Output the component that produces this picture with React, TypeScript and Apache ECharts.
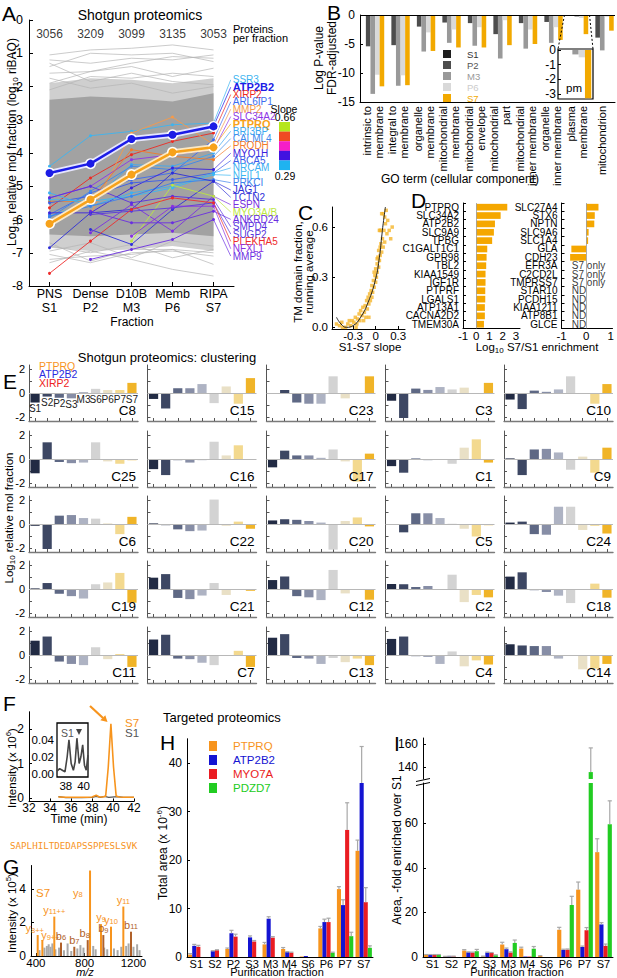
import React, { useEffect, useRef } from 'react';
import * as echarts from 'echarts';

const FONT = "'Liberation Sans', Arial, Helvetica, sans-serif";
const MONO = "'DejaVu Sans Mono', 'Liberation Mono', monospace";

/* ---------------- Panel A ---------------- */
const aFractionTop = ['PNS', 'Dense', 'D10B', 'Memb', 'RIPA'];
const aFractionBottom = ['S1', 'P2', 'M3', 'P6', 'S7'];
const aProteinsPerFraction = [3056, 3209, 3099, 3135, 3053];
const aDenseTop = [-2.4, -2.3, -2.35, -2.45, -2.2];
const aDenseBottom = [-6.45, -6.5, -6.45, -6.4, -6.5];
const aSparseTop = [-1.9, -1.75, -1.8, -1.9, -1.75];
const aSparseBottom = [-6.85, -6.95, -6.9, -6.8, -6.95];
const aGrayOutliers: number[][] = [
  [-1.05, -0.9, -0.85, -0.75, -0.9],
  [-1.2, -1.3, -1.15, -1.2, -1.05],
  [-1.4, -1.0, -1.05, -1.0, -1.25],
  [-1.6, -1.55, -1.4, -1.7, -1.45],
  [-1.3, -1.85, -1.6, -1.85, -1.95],
  [-1.9, -1.55, -1.3, -1.1, -1.15],
  [-1.75, -2.05, -1.9, -2.2, -2.0],
  [-2.1, -1.7, -1.75, -1.6, -1.7],
  [-7.3, -6.95, -7.2, -7.5, -7.7],
  [-7.05, -7.3, -7.0, -6.95, -7.1],
  [-6.8, -7.0, -6.75, -7.15, -6.9],
  [-7.2, -7.1, -7.05, -6.9, -7.35],
  [-6.95, -6.7, -7.15, -6.65, -6.8],
  [-6.7, -7.25, -6.9, -6.9, -7.0],
];
const aGenes = ['SSR3', 'ATP2B2', 'XIRP2', 'ARL6IP1', 'MMP2', 'SLC34A2', 'PTPRQ', 'BRI3BP', 'CALML4', 'PRODH', 'MYO1H', 'ABCA5', 'NRCAM', 'NEIL1', 'PRKCI', 'JAG1', 'TCTN2', 'ESPN', 'MYO3A/B', 'ANKRD24', 'SMPD4', 'SUGP2', 'PLEKHA5', 'NFXL1', 'MMP9'];
const aGeneColors = ['#3cb4f0', '#1c1ce6', '#ec2a22', '#3c6cf0', '#f59a4a', '#8c36e6', '#f7a21b', '#3ca8f0', '#3c88ec', '#f27a2a', '#3a22dc', '#3c5ce8', '#3cb0f2', '#3cb8f2', '#3c80ec', '#2e2ed6', '#3030d8', '#7a30e0', '#bce642', '#6a2ee0', '#5a30e0', '#5838dc', '#ee2c2c', '#8a30e2', '#6c30e2'];
const aBoldGenes = ['ATP2B2', 'PTPRQ'];
const aGeneValues: (number | null)[][] = [
  [-4.4, -3.48, -3.35, -3.15, -3.1],
  [-4.6, -4.32, -3.58, -3.45, -3.2],
  [-5.65, -4.75, -4.05, -3.65, -3.4],
  [-5.85, -5.2, -4.8, -4.6, -3.6],
  [null, -5.85, -3.4, -2.92, -3.75],
  [-5.35, -5.0, -4.2, -4.05, -3.9],
  [-6.13, -5.4, -4.65, -3.98, -3.83],
  [-5.9, -5.5, -4.35, -4.4, -4.0],
  [-5.95, -5.15, -4.4, -4.5, -4.1],
  [-5.45, -5.45, -3.9, -4.1, -4.2],
  [-5.8, -5.8, -5.05, -4.45, -4.5],
  [-5.5, -5.3, -4.9, -4.8, -4.6],
  [-5.2, -5.6, -5.2, -5.0, -4.6],
  [-5.4, -5.45, -5.3, -5.05, -4.65],
  [-5.9, -5.6, -5.3, -4.9, -4.8],
  [-6.85, -5.8, -5.7, -4.6, -4.85],
  [null, -6.3, -6.75, -5.7, -4.85],
  [null, -6.4, -5.55, -6.35, -5.3],
  [null, null, -6.65, -4.97, -5.3],
  [null, -5.75, -6.1, -6.1, -5.75],
  [-5.35, -5.0, -5.5, -5.3, -5.4],
  [null, -5.85, -5.75, -5.65, -5.5],
  [-7.62, -6.65, -5.7, -5.35, -5.5],
  [null, null, -6.5, -5.6, -5.6],
  [null, -7.2, -6.9, -6.6, -6.0],
];
const aSlopeTicks = ['0.66', '0.29'];
const aSlopeColors = ['#b5e61d', '#f04a23', '#f51ec8', '#4212e0', '#1fb3f0'];

/* ---------------- Panel B ---------------- */
const bTerms = ['intrinsic to\nmembrane', 'integral to\nmembrane', 'organelle\nmembrane', 'mitochondrial\nmembrane', 'mitochondrial\nenvelope', 'mitochondrial\npart', 'mitochondrial\ninner membrane', 'organelle\ninner membrane', 'plasma\nmembrane', 'mitochondrion'];
const bFractions = ['S1', 'P2', 'M3', 'P6', 'S7'];
const bS1 = [0, 0, 0, 0, 0, 0, 0, 0, 0, 0];
const bP2 = [-5.4, -5.2, -2.0, -1.3, -1.4, -3.3, -1.4, -1.2, 0, -3.9];
const bM3 = [-13.6, -12.2, -6.3, -4.8, -5.3, -7.5, -5.8, -4.8, -0.3, -6.1];
const bP6 = [-10.3, -10.4, -3.0, -2.5, -2.1, -0.9, -2.5, -2.1, -0.5, -0.3];
const bS7 = [-12.3, -12.1, -6.2, -5.6, -5.6, -5.2, -5.0, -4.3, -3.3, -2.7];
const bInsetTerm = 'plasma\nmembrane';
const bColors = ['#1e1e1e', '#4d4d4d', '#999999', '#d9d9d9', '#f2a900'];
const bLegendTextColors = ['#333333', '#555555', '#999999', '#cccccc', '#f2a900'];

/* ---------------- Panel C ---------------- */
const cPoints: number[][] = [
  [-0.52, 0.02], [-0.48, 0.01], [-0.45, 0.03], [-0.4, 0.0], [-0.37, 0.02], [-0.33, 0.01], [-0.31, 0.04], [-0.29, 0.03],
  [-0.27, 0.06], [-0.25, 0.02], [-0.24, 0.05], [-0.22, 0.08], [-0.21, 0.04], [-0.2, 0.1], [-0.18, 0.07], [-0.17, 0.12],
  [-0.15, 0.09], [-0.14, 0.13], [-0.13, 0.06], [-0.12, 0.16], [-0.11, 0.11], [-0.1, 0.18], [-0.09, 0.14], [-0.08, 0.2],
  [-0.07, 0.16], [-0.06, 0.22], [-0.05, 0.18], [-0.05, 0.25], [-0.04, 0.21], [-0.03, 0.28], [-0.02, 0.24], [-0.01, 0.31],
  [0.0, 0.27], [0.0, 0.35], [0.01, 0.3], [0.02, 0.38], [0.02, 0.33], [0.03, 0.42], [0.04, 0.36], [0.04, 0.46],
  [0.05, 0.4], [0.06, 0.48], [0.06, 0.43], [0.07, 0.5], [0.08, 0.45], [0.09, 0.53], [0.1, 0.48], [0.11, 0.58],
  [0.12, 0.51], [0.13, 0.62], [0.15, 0.56], [0.16, 0.64], [0.18, 0.58], [0.2, 0.53], [0.22, 0.6], [0.08, 0.68],
  [0.1, 0.68], [0.12, 0.66], [0.14, 0.7], [0.05, 0.58], [0.06, 0.58], [0.07, 0.58], [0.02, 0.41], [-0.02, 0.33],
  [-0.09, 0.06], [-0.16, 0.04], [-0.26, 0.0], [-0.35, 0.04], [-0.44, 0.0],
];
const cCurveX = [-0.52, -0.46, -0.39, -0.3, -0.2, -0.1, 0.0, 0.05, 0.08, 0.1, 0.13];
const cCurveY = [0.06, 0.02, 0.0, 0.01, 0.06, 0.15, 0.29, 0.42, 0.54, 0.62, 0.72];

/* ---------------- Panel D ---------------- */
const dLeftGenes = ['PTPRQ', 'SLC34A2', 'ATP2B2', 'SLC9A9', 'TPBG', 'C1GALT1C1', 'GPR98', 'TBL2', 'KIAA1549', 'IGF1R', 'PTPRF', 'LGALS1', 'ATP13A1', 'CACNA2D2', 'TMEM30A'];
const dLeftValues = [2.34, 1.84, 1.41, 1.33, 1.2, 0.83, 0.78, 0.75, 0.7, 0.7, 0.68, 0.68, 0.65, 0.65, 0.58];
const dRightGenes = ['SLC27A4', 'STX6', 'NPTN', 'SLC9A6', 'SLC1A4', 'GLA', 'CDH23', 'EFR3A', 'C2CD2L', 'TMPRSS7', 'STAR10', 'PCDH15', 'KIAA1211', 'ATP8B1', 'GLCE'];
const dRightValues: (number | null)[] = [0.5, 0.35, 0.33, 0.1, 0.08, -0.6, -0.65, null, null, null, null, null, null, null, null];
const dRightNotes = ['', '', '', '', '', '', '', 'S7 only', 'S7 only', 'S7 only', 'ND', 'ND', 'ND', 'ND', 'ND'];

/* ---------------- Panel E ---------------- */
const eFractions = ['S1', 'S2', 'P2', 'S3', 'M3', 'S6', 'P6', 'P7', 'S7'];
const eColors = ['#222b44', '#3d4763', '#5e6884', '#878ea6', '#aeb3c3', '#d3d3d3', '#e9e0c6', '#f3d98f', '#f0b428'];
const eRow1Names = ['C8', 'C15', 'C23', 'C3', 'C10'];
const eRow1 = [
  [-0.8, -0.3, -0.4, -0.45, 0.08, 0.35, 0.25, 0.25, 0.85],
  [-0.5, -1.3, 0.4, 0.4, 0.75, -0.85, 0.55, -0.9, 1.25],
  [-0.05, 0.25, -0.8, -0.9, -0.9, 1.4, -0.45, 0, 1.4],
  [-0.65, -2.1, 0.37, 0.26, 0.5, 0.3, 0.45, 0, 0.85],
  [-0.55, -1.35, 0.2, 0.1, 0.3, 1.4, 0, -0.9, 0.75],
];
const eRow2Names = ['C25', 'C16', 'C17', 'C1', 'C9'];
const eRow2 = [
  [-1.2, 1.4, -0.25, -0.35, -0.3, 1.4, -0.2, -0.4, -0.1],
  [-0.85, -1.35, -0.1, -0.3, -0.1, 1.45, 0.3, 1.15, 0],
  [-0.7, 0.7, 0.3, 0.3, 0.1, 0.8, -0.2, -1.9, 0.45],
  [-0.6, -1.15, 0.05, -0.1, 0, -0.4, 0.95, 1.65, -0.3],
  [0.05, -1.35, 0.8, 0.85, 0.55, -0.9, 0.2, -1.15, 0.95],
];
const eRow3Names = ['C6', 'C22', 'C20', 'C5', 'C24'];
const eRow3 = [
  [-0.15, -2.1, 0.7, 0.75, 0.5, 0.45, 0.05, -0.85, 0.6],
  [0.05, -0.1, -0.45, -0.6, -0.55, 2.05, -0.15, 0.2, -0.4],
  [0.3, 0.4, 0.35, 0.25, 0.12, -2.15, 0.25, 0.55, -0.2],
  [-0.05, -0.7, 0.9, 0.9, 0.5, 0.02, -0.4, -1.05, -0.1],
  [0.12, 0.2, -0.85, -0.9, 1.45, 1.45, -0.5, -0.15, -0.8],
];
const eRow4Names = ['C19', 'C21', 'C12', 'C2', 'C18'];
const eRow4 = [
  [0.05, 0.5, -0.4, -0.6, -0.8, 0.4, 0.55, 1.35, -1.15],
  [0.95, 1.25, -0.75, -0.85, -0.55, 0.5, -0.5, 0, -0.15],
  [0.75, 1.05, -0.6, -0.7, -0.93, 1.6, -0.37, 0, -0.9],
  [0.42, 0.4, 0.17, 0.25, -0.05, 1.2, -1.1, -0.5, -0.7],
  [1.04, 1.4, -0.1, -0.25, -0.56, -1.18, 0, 0.45, -0.73],
];
const eRow5Names = ['C11', 'C7', 'C13', 'C4', 'C14'];
const eRow5 = [
  [1.2, 1.55, -0.55, -0.75, -0.85, 0.65, -0.35, 0.08, -1.0],
  [1.3, 1.7, -0.3, -0.35, -0.65, -0.85, 0, 0.35, -1.0],
  [1.45, 1.75, -0.25, -0.3, -0.75, -0.25, -0.6, -0.3, -0.85],
  [1.35, 1.55, -0.1, -0.15, -0.75, 0.3, -0.95, -0.45, -0.8],
  [0.9, 0.8, 0.75, 0.75, -0.3, 0, -1.2, -1.15, -0.75],
];
const eLegendGenes = ['PTPRQ', 'ATP2B2', 'XIRP2'];
const eLegendColors = ['#f7941d', '#2a2ae0', '#ee2222'];

/* ---------------- Panel F ---------------- */
const fS7Time = [34.8, 35.5, 36, 36.5, 37, 37.5, 38, 38.4, 38.7, 39, 39.3, 39.55, 39.8, 40.05, 40.3, 40.6, 41, 41.5, 42];
const fS7Int = [0.03, 0.02, 0.02, 0.02, 0.02, 0.02, 0.03, 0.08, 0.03, 0.03, 0.05, 0.9, 2.15, 0.9, 0.06, 0.03, 0.02, 0.02, 0.02];
const fS1Time = [34.8, 35.5, 36, 37, 38, 38.4, 38.8, 39.2, 39.6, 40.4, 41, 42];
const fS1Int = [0.04, 0.01, 0.01, 0.01, 0.02, 0.05, 0.02, 0.05, 0.02, 0.04, 0.02, 0.02];
const fInsetTime = [37, 37.3, 37.6, 37.9, 38.15, 38.35, 38.6, 38.85, 39.05, 39.25, 39.5, 39.7, 39.9, 40.1, 40.3, 40.5];
const fInsetInt = [0.003, 0.006, 0.004, 0.002, 0.02, 0.04, 0.012, 0.004, 0.014, 0.042, 0.012, 0.02, 0.034, 0.01, 0.004, 0.022];

/* ---------------- Panel G ---------------- */
const gSequence = 'SAPLHILTDEDAPSSPPESLSVK';
const gIonNames = ['y8++', 'y9++', 'y11++', 'b6', 'b7', 'b8', 'y8', 'y9', 'b9', 'y10', 'y11', 'b11'];
const gIonMz = [415, 453, 551, 606, 715, 825, 844, 934, 953, 1016, 1117, 1180];
const gIonIntensity = [1.25, 0.95, 2.35, 0.8, 0.55, 0.95, 5.1, 1.9, 1.25, 1.75, 2.95, 1.45];
const gOtherMz = [430, 470, 490, 505, 520, 535, 560, 590, 630, 660, 690, 740, 765, 790, 870, 890, 960, 985, 1040, 1070, 1100, 1140, 1160, 1200, 1230, 1250];
const gOtherIntensity = [0.35, 0.5, 0.6, 0.7, 0.55, 0.75, 0.4, 0.5, 0.35, 0.75, 0.3, 0.45, 0.65, 0.5, 0.6, 0.4, 0.5, 0.4, 0.45, 0.35, 0.55, 0.6, 0.75, 0.55, 0.7, 0.35];

/* ---------------- Panel H / I ---------------- */
const hiFractions = ['S1', 'S2', 'P2', 'S3', 'M3', 'M4', 'S6', 'P6', 'P7', 'S7'];
const hiProteins = ['PTPRQ', 'ATP2B2', 'MYO7A', 'PDZD7'];
const hiColors = ['#f7941d', '#1414d2', '#ea1c22', '#22cc22'];
const hTicks = [0, 10, 20, 30, 40];
const hPTPRQ = [0.5, 0, 1.65, 0, 2.6, 1.65, 0.1, 5.9, 14.0, 21.9];
const hATP2B2 = [2.3, 1.2, 4.9, 4.05, 7.9, 1.0, 0.2, 7.2, 10.7, 35.9];
const hMYO7A = [2.1, 1.4, 4.2, 3.2, 4.0, 0.9, 0, 7.2, 26.2, 11.3];
const hPDZD7 = [0, 0, 0, 0, 0, 0, 0, 0.9, 4.3, 1.9];
const hPTPRQErr = [0.2, 0, 0.2, 0, 0.4, 0.3, 0, 0.4, 0.5, 2.2];
const hATP2B2Err = [0.3, 0.1, 0.6, 0.3, 0.4, 0.1, 0, 0.6, 1.1, 7.5];
const hMYO7AErr = [0.3, 0.1, 0.5, 0.2, 0.2, 0.1, 0, 0.8, 5.6, 3.0];
const hPDZD7Err = [0, 0, 0, 0, 0, 0, 0, 0.1, 0.8, 0.4];
const iLowTicks = [0, 20, 40, 60];
const iHighTicks = [140, 160];
const iPTPRQ = [1, 0.2, 2.9, 0.3, 5.6, 3.8, 0.5, 12.2, 30.2, 47];
const iATP2B2 = [1, 0.3, 2.1, 2.0, 3.5, 0.2, 0, 3.2, 4.5, 14.6];
const iMYO7A = [1, 0.3, 2.0, 1.8, 2.0, 0.2, 0, 3.3, 12.0, 5.0];
const iPDZD7 = [1, 0, 2.6, 0.8, 6.3, 3.7, 0, 23.3, 136, 59.5];
const iPTPRQErr = [0.1, 0.1, 0.4, 0.1, 1.0, 0.6, 0.1, 1.1, 3.4, 6.0];
const iATP2B2Err = [0.1, 0.1, 0.2, 0.2, 0.5, 0, 0, 0.3, 0.4, 0.8];
const iMYO7AErr = [0.1, 0.1, 0.2, 0.2, 0.3, 0, 0, 0.3, 1.2, 0.8];
const iPDZD7Err = [0.1, 0, 0.8, 0.2, 1.3, 1.0, 0, 3.9, 21, 10.5];

function buildOption() {
  const grid: any[] = [];
  const xAxis: any[] = [];
  const yAxis: any[] = [];
  const series: any[] = [];
  const gr: any[] = [];

  const addGrid = (g: any, xa: any, ya: any) => {
    const i = grid.length;
    grid.push({ containLabel: false, ...g });
    xAxis.push({ gridIndex: i, splitLine: { show: false }, ...xa });
    yAxis.push({ gridIndex: i, splitLine: { show: false }, ...ya });
    return i;
  };
  const axLine = (color = '#000', width = 1) => ({ show: true, onZero: false, lineStyle: { color, width } });
  const axTick = (length = 3, extra: any = {}) => ({ show: true, inside: true, length, lineStyle: { color: '#000', width: 1 }, ...extra });
  const axLabel = (fontSize = 12, extra: any = {}) => ({ show: true, color: '#000', fontSize, fontFamily: FONT, margin: 4, ...extra });
  const rich = (size: number, color = '#000') => ({
    n: { fontSize: size, fontFamily: FONT, fill: color, lineHeight: size + 3 },
    s: { fontSize: Math.round(size * 0.7), fontFamily: FONT, fill: color, lineHeight: Math.round(size * 0.7), verticalAlign: 'bottom' },
    p: { fontSize: Math.round(size * 0.7), fontFamily: FONT, fill: color, lineHeight: Math.round(size * 0.7), verticalAlign: 'top' },
  });
  const text = (t: string, x: number, y: number, o: any = {}) => {
    gr.push({
      type: 'text', x, y, rotation: o.rot || 0, z: 100, silent: true,
      style: {
        text: t, fill: o.color || '#000',
        font: `${o.italic ? 'italic' : 'normal'} ${o.weight || 'normal'} ${o.size || 12}px ${o.family || FONT}`,
        textAlign: o.align || 'left', textVerticalAlign: o.valign || 'middle',
        lineHeight: o.lineHeight, rich: o.rich,
      },
    });
  };
  const letter = (t: string, x: number, y: number) => text(t, x, y, { size: 21 });
  const segment = (x1: number, y1: number, x2: number, y2: number, stroke = '#000', w = 1, dash?: number[]) =>
    gr.push({ type: 'line', z: 100, silent: true, shape: { x1, y1, x2, y2 }, style: { stroke, lineWidth: w, lineDash: dash } });

  const errorBars = (gi: number, idx: number, n: number, gap: number, vals: number[], errs: number[], keep: (v: number, e: number) => boolean) => ({
    type: 'custom', xAxisIndex: gi, yAxisIndex: gi, silent: true, z: 3,
    data: vals.map((v, i) => [i, v, v + errs[i]]).filter((d, i) => errs[i] > 0 && keep(vals[i], errs[i])),
    renderItem: (_p: any, api: any) => {
      const xi = api.value(0), lo = api.value(1), hi = api.value(2);
      const band = api.size([1, 0])[0];
      const bw = (band * (1 - gap)) / n;
      const p0 = api.coord([xi, lo]);
      const p1 = api.coord([xi, hi]);
      const cx = p0[0] - (band * (1 - gap)) / 2 + bw * (idx + 0.5);
      return {
        type: 'group', children: [
          { type: 'line', shape: { x1: cx, y1: p0[1], x2: cx, y2: p1[1] }, style: { stroke: '#a8a8a8', lineWidth: 1.2 } },
          { type: 'line', shape: { x1: cx - bw / 2, y1: p1[1], x2: cx + bw / 2, y2: p1[1] }, style: { stroke: '#a8a8a8', lineWidth: 1.2 } },
        ],
      };
    },
  });

  /* ===== Panel A ===== */
  const idx5 = [0, 1, 2, 3, 4];
  const gA = addGrid({ left: 29, top: 20, width: 205, height: 266 },
    { type: 'value', min: -0.5, max: 4.5, axisLine: axLine(), axisTick: axTick(4, { customValues: idx5 }),
      axisLabel: axLabel(12.5, { customValues: idx5, lineHeight: 14, margin: 1, formatter: (v: number) => `${aFractionTop[Math.round(v)]}\n${aFractionBottom[Math.round(v)]}` }) },
    { type: 'value', min: -8, max: 0, interval: 1, axisLine: axLine(), axisTick: axTick(4), axisLabel: axLabel(12.5, { margin: 6 }) });
  const band = (top: number[], bottom: number[], fill: string, z: number) => ({
    type: 'custom', xAxisIndex: gA, yAxisIndex: gA, silent: true, z, data: [[0, 0]],
    renderItem: (_p: any, api: any) => {
      const pts: number[][] = [];
      top.forEach((v, i) => pts.push(api.coord([i, v])));
      for (let i = bottom.length - 1; i >= 0; i--) pts.push(api.coord([i, bottom[i]]));
      return { type: 'polygon', shape: { points: pts }, style: { fill } };
    },
  });
  series.push(band(aSparseTop, aSparseBottom, '#cfcfcf', 1));
  series.push(band(aDenseTop, aDenseBottom, '#a2a2a2', 1));
  aGrayOutliers.forEach((vals) => series.push({
    type: 'line', xAxisIndex: gA, yAxisIndex: gA, silent: true, z: 2, symbol: 'none',
    data: vals.map((v, i) => [i, v]), lineStyle: { color: '#b4b4b4', width: 0.7 },
  }));
  series.push({
    type: 'scatter', xAxisIndex: gA, yAxisIndex: gA, silent: true, symbolSize: 1, itemStyle: { color: 'rgba(0,0,0,0)' },
    data: aProteinsPerFraction.map((n, i) => [i, -0.42, n]),
    label: { show: true, position: 'inside', formatter: (p: any) => String(p.data[2]), fontSize: 12, color: '#000', fontFamily: FONT },
  });
  const labelY = (k: number) => -1.8 - (k * 5.3) / (aGenes.length - 1);
  aGenes.forEach((gene, k) => {
    const color = aGeneColors[k];
    const bold = aBoldGenes.includes(gene);
    const data = aGeneValues[k].map((v, i) => (v == null ? null : [i, v])).filter((d) => d) as number[][];
    const last = data[data.length - 1];
    series.push({
      type: 'line', xAxisIndex: gA, yAxisIndex: gA, silent: true, z: 3, symbol: 'none', clip: false,
      data: [last, [4.42, labelY(k)]], lineStyle: { color, width: 0.7 },
      endLabel: { show: true, formatter: gene, color, fontSize: bold ? 11 : 10, fontWeight: bold ? 'bold' : 'normal', fontFamily: FONT, distance: 2 },
    });
    if (bold) {
      series.push({
        type: 'line', xAxisIndex: gA, yAxisIndex: gA, silent: true, z: 5, data,
        symbol: 'circle', symbolSize: 11, itemStyle: { color: '#fff' }, lineStyle: { color: gene === 'PTPRQ' ? '#fbe8c4' : '#e6e6ff', width: 6 },
      });
    }
    series.push({
      type: 'line', xAxisIndex: gA, yAxisIndex: gA, silent: true, z: bold ? 6 : 4, data,
      symbol: 'circle', symbolSize: bold ? 8 : 3, itemStyle: { color },
      lineStyle: { color, width: bold ? 2.5 : 0.9 },
    });
  });
  letter('A', 2, 13);
  text('Shotgun proteomics', 140, 15, { size: 14, align: 'center' });
  text('Proteins', 233, 29, { size: 11 });
  text('per fraction', 233, 38, { size: 11 });
  text('{n|Log}{s|10}{n| relative mol fraction (log}{s|10}{n| riBAQ)}', 12, 142, { rot: Math.PI / 2, align: 'center', rich: rich(12) });
  text('Fraction', 132, 322, { size: 12, align: 'center' });
  text('Slope', 284, 109, { size: 10.5, align: 'center' });
  text(aSlopeTicks[0], 285, 117, { size: 10.5, align: 'center' });
  text(aSlopeTicks[1], 285, 176, { size: 10.5, align: 'center' });
  aSlopeColors.forEach((c, i) => gr.push({ type: 'rect', z: 100, silent: true, shape: { x: 279, y: 122 + i * 9.6, width: 11, height: 9.7 }, style: { fill: c } }));

  /* ===== Panel B ===== */
  const gB = addGrid({ left: 360, top: 15, width: 255, height: 87 },
    { type: 'category', data: bTerms, axisLine: axLine(), axisTick: { show: false },
      axisLabel: axLabel(11, { rotate: 90, interval: 0, lineHeight: 12, margin: 4 }) },
    { type: 'value', min: -15, max: 0, interval: 5, axisLine: axLine(), axisTick: axTick(3), axisLabel: axLabel(12, { margin: 5 }) });
  const bSeriesVals = [bS1, bP2, bM3, bP6, bS7];
  bFractions.forEach((f, i) => series.push({
    type: 'bar', name: f, xAxisIndex: gB, yAxisIndex: gB, data: bSeriesVals[i], barGap: '0%', barCategoryGap: '10%',
    itemStyle: { color: bColors[i] }, silent: true,
    markLine: i === 0 ? { silent: true, symbol: 'none', label: { show: false }, lineStyle: { color: '#000', width: 1, type: 'solid' }, data: [{ yAxis: 0 }] } : undefined,
  }));
  const insetIdx = bTerms.indexOf(bInsetTerm);
  const gBi = addGrid({ left: 558, top: 49, width: 35, height: 50, show: true, borderColor: '#000', borderWidth: 1.2, backgroundColor: '#fff', z: 5 },
    { type: 'category', data: ['pm'], axisLine: { show: false }, axisTick: { show: false }, axisLabel: { show: false }, z: 6 },
    { type: 'value', min: -3.35, max: 0.07, axisLine: { show: false }, axisTick: axTick(3, { customValues: [0, -1, -2, -3] }),
      axisLabel: axLabel(12, { customValues: [0, -1, -2, -3], margin: 2 }), z: 6 });
  bFractions.forEach((f, i) => series.push({
    type: 'bar', name: 'inset-' + f, xAxisIndex: gBi, yAxisIndex: gBi, data: [bSeriesVals[i][insetIdx]], barGap: '0%', barCategoryGap: '10%',
    itemStyle: { color: bColors[i] }, silent: true, z: 6,
  }));
  text('pm', 566, 88, { size: 11.5 });
  segment(564.5, 15, 558, 49, '#000', 1, [2, 2]);
  segment(589.5, 15, 593, 49, '#000', 1, [2, 2]);
  letter('B', 327, 12);
  text('Log P-value\nFDR-adjusted', 325, 58, { rot: Math.PI / 2, align: 'center', size: 12, lineHeight: 13 });
  text('GO term (cellular component)', 460, 179, { size: 12, align: 'center' });

  /* ===== Panel C ===== */
  const gC = addGrid({ left: 332, top: 207, width: 73, height: 122 },
    { type: 'value', min: -0.58, max: 0.39, axisLine: axLine(), axisTick: axTick(3, { customValues: [-0.3, 0, 0.3] }),
      axisLabel: axLabel(11.5, { customValues: [-0.3, 0, 0.3], margin: 1, formatter: (v: number) => (Math.abs(v) < 1e-9 ? '0' : v.toFixed(1)) }) },
    { type: 'value', min: -0.01, max: 0.72, axisLine: axLine(), axisTick: axTick(3, { customValues: [0, 0.3, 0.6] }),
      axisLabel: axLabel(11.5, { customValues: [0, 0.3, 0.6], margin: 4, formatter: (v: number) => v.toFixed(1) }) });
  series.push({ type: 'scatter', xAxisIndex: gC, yAxisIndex: gC, silent: true, symbol: 'rect', symbolSize: 3.5, itemStyle: { color: '#f5b52a' }, data: cPoints, z: 3 });
  series.push({ type: 'line', xAxisIndex: gC, yAxisIndex: gC, silent: true, smooth: true, symbol: 'none', lineStyle: { color: '#222', width: 1 }, data: cCurveX.map((x, i) => [x, cCurveY[i]]), z: 4 });
  letter('C', 298, 212);
  text('TM domain fraction,\nrunning average', 303, 272, { rot: Math.PI / 2, align: 'center', size: 11.5, lineHeight: 11 });
  text('S1-S7 slope', 370, 347, { size: 11.5, align: 'center' });

  /* ===== Panel D ===== */
  const zeroV = { silent: true, symbol: 'none', label: { show: false }, lineStyle: { color: '#999', width: 0.8, type: 'solid' }, data: [{ xAxis: 0 }] };
  const gDL = addGrid({ left: 463, top: 203, width: 57, height: 125.4 },
    { type: 'value', min: -1, max: 3.3, axisLine: axLine(), axisTick: { show: false },
      axisLabel: axLabel(11.5, { customValues: [-1, 0, 1, 2, 3], margin: 2 }) },
    { type: 'category', inverse: true, data: dLeftGenes, axisLine: axLine(), axisTick: axTick(3, { interval: 0 }),
      axisLabel: axLabel(10, { interval: 0, margin: 4, lineHeight: 8 }) });
  series.push({ type: 'bar', xAxisIndex: gDL, yAxisIndex: gDL, silent: true, data: dLeftValues, barCategoryGap: '20%', itemStyle: { color: '#f5a700' }, markLine: zeroV });
  const gDR = addGrid({ left: 561.5, top: 203, width: 55, height: 125.4 },
    { type: 'value', min: -1, max: 1.07, axisLine: axLine(), axisTick: { show: false },
      axisLabel: axLabel(11.5, { customValues: [-1, 0, 1], margin: 2 }) },
    { type: 'category', inverse: true, data: dRightGenes, axisLine: axLine(), axisTick: axTick(3, { interval: 0 }),
      axisLabel: axLabel(10, { interval: 0, margin: 4, lineHeight: 8 }) });
  series.push({ type: 'bar', xAxisIndex: gDR, yAxisIndex: gDR, silent: true, data: dRightValues.map((v) => (v == null ? '-' : v)), barCategoryGap: '20%', itemStyle: { color: '#f5a700' }, markLine: zeroV });
  series.push({
    type: 'scatter', xAxisIndex: gDR, yAxisIndex: gDR, silent: true, symbolSize: 1, itemStyle: { color: 'rgba(0,0,0,0)' },
    data: dRightNotes.map((n, i) => [-0.6, i, n]).filter((d) => d[2] !== ''),
    label: { show: true, position: 'right', distance: 0, formatter: (p: any) => p.data[2], fontSize: 10, lineHeight: 8, color: '#000', fontFamily: FONT },
  });
  letter('D', 411, 200);
  text('{n|Log}{s|10}{n| S7/S1 enrichment}', 537, 347, { align: 'center', rich: rich(11.5) });

  /* ===== Panel E ===== */
  const eRows = [eRow1, eRow2, eRow3, eRow4, eRow5];
  const eNames = [eRow1Names, eRow2Names, eRow3Names, eRow4Names, eRow5Names];
  const colLeft = [29, 147.5, 266.5, 385.5, 504];
  const rowTop = [365, 431, 496, 561, 627];
  eRows.forEach((row, r) => row.forEach((prof, c) => {
    const left = colLeft[c], top = rowTop[r];
    const gi = addGrid({ left, top, width: 109, height: 56 },
      { type: 'category', data: eFractions, axisLine: axLine('#7a7a7a', 1.4),
        axisTick: { show: true, inside: true, length: 3, alignWithLabel: true, interval: 0, lineStyle: { color: '#555' } }, axisLabel: { show: false } },
      { type: 'value', min: -2.35, max: 2.35, axisLine: axLine('#555'),
        axisTick: { show: true, inside: true, length: 3, customValues: [-2, -1, 0, 1, 2], lineStyle: { color: '#555' } },
        axisLabel: c === 0 ? axLabel(11, { customValues: [-2, 0, 2], margin: 4 }) : { show: false } });
    const first = r === 0 && c === 0;
    series.push({
      type: 'bar', xAxisIndex: gi, yAxisIndex: gi, silent: true, barCategoryGap: '24%',
      data: prof.map((v, i) => ({
        value: v, itemStyle: { color: eColors[i] },
        label: first ? { show: true, position: 'bottom', distance: 1, formatter: eFractions[i], fontSize: 10, color: '#222', fontFamily: FONT } : undefined,
      })),
      markLine: { silent: true, symbol: 'none', label: { show: false }, lineStyle: { color: '#b8b8b8', width: 1, type: 'solid' }, data: [{ yAxis: 0 }] },
    });
    text(eNames[r][c], left + 107, top + 45, { size: 13.5, align: 'right' });
  }));
  text('Shotgun proteomics: clustering', 167, 357, { size: 13, align: 'center' });
  letter('E', 3, 381);
  eLegendGenes.forEach((gname, i) => text(gname, 39, 366 + i * 8.3, { size: 10.5, color: eLegendColors[i] }));
  text('{n|Log}{s|10}{n| relative mol fraction}', 9, 518, { rot: Math.PI / 2, align: 'center', rich: rich(11.5) });

  /* ===== Panel F ===== */
  const gF = addGrid({ left: 29, top: 711.75, width: 105, height: 89.7 },
    { type: 'value', min: 32, max: 42, interval: 2, axisLine: axLine(), axisTick: axTick(3), axisLabel: axLabel(12, { margin: 1 }) },
    { type: 'value', min: -0.1, max: 2.5, axisLine: axLine(), axisTick: axTick(3, { customValues: [0, 1, 2] }),
      axisLabel: axLabel(12, { customValues: [0, 1, 2], margin: 5 }) });
  series.push({ type: 'line', xAxisIndex: gF, yAxisIndex: gF, silent: true, symbol: 'none', lineStyle: { color: '#555', width: 1.3 }, data: fS1Time.map((t, i) => [t, fS1Int[i]]), z: 3 });
  series.push({ type: 'line', xAxisIndex: gF, yAxisIndex: gF, silent: true, symbol: 'none', lineStyle: { color: '#f7941d', width: 1.6 }, data: fS7Time.map((t, i) => [t, fS7Int[i]]), z: 4 });
  const gFi = addGrid({ left: 57, top: 723, width: 31, height: 54, show: true, borderColor: '#000', borderWidth: 1.3, backgroundColor: '#fff', z: 5 },
    { type: 'value', min: 37, max: 40.5, axisLine: { show: false }, axisTick: axTick(2, { customValues: [38, 40] }),
      axisLabel: axLabel(11.5, { customValues: [38, 40], margin: 3 }) },
    { type: 'value', min: -0.004, max: 0.06, axisLine: { show: false }, axisTick: axTick(2, { customValues: [0, 0.02, 0.04] }),
      axisLabel: axLabel(11.5, { customValues: [0, 0.02, 0.04], margin: 3, formatter: (v: number) => v.toFixed(2) }) });
  series.push({ type: 'line', xAxisIndex: gFi, yAxisIndex: gFi, silent: true, symbol: 'none', z: 6, lineStyle: { color: '#444', width: 1.6 }, data: fInsetTime.map((t, i) => [t, fInsetInt[i]]) });
  letter('F', 3, 703);
  text('{n|Intensity (x 10}{p|6}{n|)}', 12, 768, { rot: Math.PI / 2, align: 'center', rich: rich(11.5) });
  text('Time (min)', 79, 819, { size: 12, align: 'center' });
  text('S7', 125, 723, { size: 11.5, color: '#f7941d' });
  text('S1', 125, 733, { size: 11.5, color: '#555' });
  text('S1', 61, 733, { size: 10.5, color: '#555' });
  gr.push({ type: 'polygon', z: 100, silent: true, shape: { points: [[76, 729], [82, 729], [79, 735]] }, style: { fill: '#444' } });
  segment(90, 706, 103, 718, '#f7941d', 2.2);
  gr.push({ type: 'polygon', z: 100, silent: true, shape: { points: [[107.5, 722], [100.3, 720.3], [105.3, 715.3]] }, style: { fill: '#f7941d' } });

  /* ===== Panel G ===== */
  const gG = addGrid({ left: 31, top: 865.5, width: 111, height: 90.5 },
    { type: 'value', min: 360, max: 1270, axisLine: axLine(), axisTick: axTick(3, { customValues: [400, 800, 1200] }),
      axisLabel: axLabel(11.5, { customValues: [400, 800, 1200], margin: 1, formatter: (v: number) => String(Math.round(v)) }) },
    { type: 'value', min: 0, max: 5.4, axisLine: axLine(), axisTick: axTick(3, { customValues: [0, 2, 4] }),
      axisLabel: axLabel(12, { customValues: [0, 2, 4], margin: 5 }) });
  series.push({ type: 'bar', xAxisIndex: gG, yAxisIndex: gG, silent: true, barWidth: 2, itemStyle: { color: '#a9a9a9' }, data: gOtherMz.map((m, i) => [m, gOtherIntensity[i]]), z: 2 });
  const labelOffsets: Record<string, any> = { 'y8': { position: [-16, 16] }, 'y8++': { offset: [-3, 0] }, 'y9++': { offset: [8, 2] }, 'b8': { offset: [-3, 0] } };
  series.push({
    type: 'bar', xAxisIndex: gG, yAxisIndex: gG, silent: true, barWidth: 2, barGap: '-100%', z: 3,
    data: gIonMz.map((m, i) => {
      const name = gIonNames[i];
      const color = name[0] === 'y' ? '#f7941d' : '#b0612a';
      return {
        value: [m, gIonIntensity[i]], itemStyle: { color },
        label: {
          show: true, position: 'top', distance: 1, formatter: `{m|${name[0]}}{s|${name.slice(1)}}`,
          rich: { m: { fontSize: 11, color, fontFamily: FONT, lineHeight: 12 }, s: { fontSize: 7.5, color, fontFamily: FONT, lineHeight: 7, verticalAlign: 'bottom' } },
          ...(labelOffsets[name] || {}),
        },
      };
    }),
  });
  letter('G', 3, 866);
  text(gSequence, 10, 845, { size: 9.2, family: MONO, color: '#f7941d' });
  text('S7', 36, 893, { size: 11.5, color: '#f7941d' });
  text('{n|Intensity (x 10}{p|5}{n|)}', 12, 913, { rot: Math.PI / 2, align: 'center', rich: rich(11.5) });
  text('m/z', 85, 972, { size: 11, align: 'center', italic: true });

  /* ===== Panel H ===== */
  const hVals = [hPTPRQ, hATP2B2, hMYO7A, hPDZD7];
  const hErrs = [hPTPRQErr, hATP2B2Err, hMYO7AErr, hPDZD7Err];
  const gap = 0.12;
  const gH = addGrid({ left: 187, top: 738.75, width: 186, height: 218.25 },
    { type: 'category', data: hiFractions, axisLine: axLine(), axisTick: { show: false }, axisLabel: axLabel(11, { interval: 0, margin: 1 }) },
    { type: 'value', min: 0, max: 45, axisLine: axLine(), axisTick: axTick(3, { customValues: hTicks }), axisLabel: axLabel(12, { margin: 5, customValues: hTicks }) });
  hiProteins.forEach((p, i) => {
    series.push({ type: 'bar', name: p, xAxisIndex: gH, yAxisIndex: gH, silent: true, data: hVals[i], barGap: '0%', barCategoryGap: `${gap * 100}%`, itemStyle: { color: hiColors[i] }, z: 2 });
  });
  hiProteins.forEach((_p, i) => series.push(errorBars(gH, i, 4, gap, hVals[i], hErrs[i], () => true)));
  letter('H', 160, 742);
  text('Targeted proteomics', 163, 717, { size: 13 });
  text('{n|Total area (x 10}{p|-6}{n|)}', 163, 853, { rot: Math.PI / 2, align: 'center', rich: rich(12) });
  text('Purification fraction', 277, 972, { size: 11, align: 'center' });

  /* ===== Panel I ===== */
  const iVals = [iPTPRQ, iATP2B2, iMYO7A, iPDZD7];
  const iErrs = [iPTPRQErr, iATP2B2Err, iMYO7AErr, iPDZD7Err];
  const iLowMax = 78;
  const iHighMin = 130;
  const gI = addGrid({ left: 423, top: 783, width: 190, height: 174 },
    { type: 'category', data: hiFractions, axisLine: axLine(), axisTick: { show: false }, axisLabel: axLabel(11, { interval: 0, margin: 1 }) },
    { type: 'value', min: 0, max: iLowMax, axisLine: axLine(), axisTick: axTick(3, { customValues: iLowTicks }), axisLabel: axLabel(12, { margin: 5, customValues: iLowTicks }) });
  const gIu = addGrid({ left: 423, top: 738, width: 190, height: 41 },
    { type: 'category', data: hiFractions, show: false },
    { type: 'value', min: iHighMin, max: 165.6, axisLine: axLine(), axisTick: axTick(3, { customValues: iHighTicks }),
      axisLabel: axLabel(12, { customValues: iHighTicks, margin: 5 }) });
  hiProteins.forEach((p, i) => {
    series.push({ type: 'bar', name: 'I-' + p, xAxisIndex: gI, yAxisIndex: gI, silent: true, data: iVals[i], barGap: '0%', barCategoryGap: `${gap * 100}%`, itemStyle: { color: hiColors[i] }, z: 2 });
    series.push({ type: 'bar', name: 'Iu-' + p, xAxisIndex: gIu, yAxisIndex: gIu, silent: true, data: iVals[i], barGap: '0%', barCategoryGap: `${gap * 100}%`, itemStyle: { color: hiColors[i] }, z: 2 });
  });
  hiProteins.forEach((_p, i) => {
    series.push(errorBars(gI, i, 4, gap, iVals[i], iErrs[i], (v, e) => v + e <= iLowMax));
    series.push(errorBars(gIu, i, 4, gap, iVals[i], iErrs[i], (v) => v > iHighMin));
  });
  segment(416, 781.5, 430, 778.5);
  segment(416, 785.5, 430, 782.5);
  letter('I', 394, 743);
  text('Area, -fold enriched over S1', 397, 850, { rot: Math.PI / 2, align: 'center', size: 12 });
  text('Purification fraction', 517, 972, { size: 11, align: 'center' });

  return {
    animation: false,
    backgroundColor: '#ffffff',
    textStyle: { fontFamily: FONT },
    grid, xAxis, yAxis, series,
    legend: [
      {
        left: 443, top: 49, orient: 'vertical', itemWidth: 8, itemHeight: 8, itemGap: 1, icon: 'rect', selectedMode: false, padding: 0,
        textStyle: { fontSize: 9.5, fontFamily: FONT, lineHeight: 8, padding: [0, 0, 0, 11] },
        data: bFractions.map((f, i) => ({ name: f, textStyle: { color: bLegendTextColors[i] } })),
      },
      {
        left: 209, top: 740, orient: 'vertical', itemWidth: 8, itemHeight: 10, itemGap: 2, icon: 'rect', selectedMode: false, padding: 0,
        textStyle: { fontSize: 11.5, fontFamily: FONT, lineHeight: 11, padding: [0, 0, 0, 11] },
        data: hiProteins.map((p, i) => ({ name: p, textStyle: { color: hiColors[i] } })),
      },
    ],
    graphic: { elements: gr },
  };
}

export default function App() {
  const ref = useRef<HTMLDivElement>(null);
  useEffect(() => {
    if (!ref.current) return;
    const chart = echarts.init(ref.current, null, { renderer: 'svg' });
    chart.setOption(buildOption() as any);
    return () => chart.dispose();
  }, []);
  return <div ref={ref} style={{ position: 'absolute', left: 0, top: 0, width: 617, height: 978, background: '#fff' }} />;
}
